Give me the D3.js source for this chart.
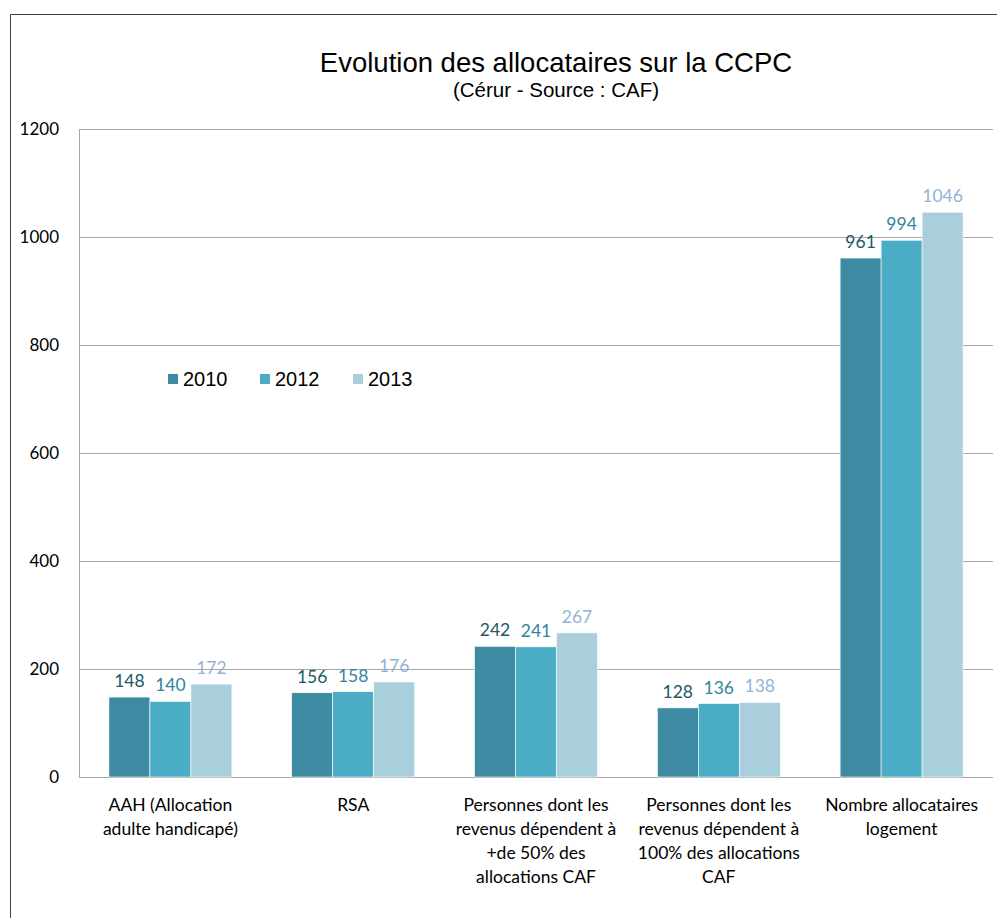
<!DOCTYPE html>
<html><head><meta charset="utf-8">
<script src="https://cdn.jsdelivr.net/npm/d3@7"></script>
<style>body{margin:0;background:#fff;}svg{display:block;}</style>
</head><body>
<script>
const categories = [
  "AAH (Allocation adulte handicapé)",
  "RSA",
  "Personnes dont les revenus dépendent à +de 50% des allocations CAF",
  "Personnes dont les revenus dépendent à 100% des allocations CAF",
  "Nombre allocataires logement"
];
const categoryLines = [
  ["AAH (Allocation", "adulte handicapé)"],
  ["RSA"],
  ["Personnes dont les", "revenus dépendent à", "+de 50% des", "allocations CAF"],
  ["Personnes dont les", "revenus dépendent à", "100% des allocations", "CAF"],
  ["Nombre allocataires", "logement"]
];
const years = ["2010", "2012", "2013"];
const values2010 = [148, 156, 242, 128, 961];
const values2012 = [140, 158, 241, 136, 994];
const values2013 = [172, 176, 267, 138, 1046];
const yTicks = [0, 200, 400, 600, 800, 1000, 1200];
const barColors = ["#3C8BA2", "#4BACC6", "#A9CFDD"];
const labelColors = ["#215868", "#31859C", "#95B3D7"];

(function () {
const series = [values2010, values2012, values2013];
const W = 997, H = 918;
const svg = d3.select("body").append("svg").attr("width", W).attr("height", H);

// outer frame
svg.append("line").attr("x1", 10.5).attr("x2", W).attr("y1", 14.5).attr("y2", 14.5).attr("stroke", "#404040");
svg.append("line").attr("x1", 10.5).attr("x2", 10.5).attr("y1", 14.5).attr("y2", H).attr("stroke", "#404040");

const pLeft = 79, pRight = 993, pTop = 129, pBottom = 777;
const y = d3.scaleLinear().domain([0, 1200]).range([pBottom, pTop]);
const x0 = d3.scaleBand().domain(categories).range([pLeft, pRight]).padding(0);
const x1 = d3.scaleBand().domain(years).range([0, x0.bandwidth()]).paddingInner(0).paddingOuter(0.73);

// gridlines
svg.append("g").selectAll("line").data(yTicks).join("line")
  .attr("x1", pLeft).attr("x2", pRight)
  .attr("y1", d => Math.round(y(d)) + 0.5).attr("y2", d => Math.round(y(d)) + 0.5)
  .attr("stroke", "#A6A6A6").attr("stroke-width", 1);
svg.append("line").attr("x1", pLeft + 0.5).attr("x2", pLeft + 0.5).attr("y1", y(1200)).attr("y2", y(0))
  .attr("stroke", "#A6A6A6");

// y tick labels
svg.append("g").selectAll("text").data(yTicks).join("text")
  .attr("x", 59).attr("y", d => y(d)).attr("dy", "0.35em")
  .attr("text-anchor", "end")
  .attr("font-family", "Lato, 'Open Sans', sans-serif").attr("font-size", 17).attr("fill", "#000")
  .text(d => d);

// bars
const groups = svg.append("g").selectAll("g").data(categories).join("g")
  .attr("transform", d => `translate(${x0(d)},0)`);
groups.each(function(cat, ci) {
  const g = d3.select(this);
  years.forEach((yr, si) => {
    const v = series[si][ci];
    g.append("rect")
      .attr("x", x1(yr)).attr("width", x1.bandwidth())
      .attr("y", y(v)).attr("height", y(0) - y(v))
      .attr("fill", barColors[si]).attr("stroke", "#fff").attr("stroke-width", 0.6);
    g.append("text")
      .attr("x", x1(yr) + x1.bandwidth() / 2).attr("y", y(v) - 10)
      .attr("text-anchor", "middle")
      .attr("font-family", "Lato, 'Open Sans', sans-serif").attr("font-size", 17.5)
      .attr("fill", labelColors[si])
      .text(v);
  });
});

// category labels
categories.forEach((cat, ci) => {
  const t = svg.append("text")
    .attr("text-anchor", "middle")
    .attr("font-family", "Lato, 'Open Sans', sans-serif").attr("font-size", 17.5).attr("fill", "#000");
  categoryLines[ci].forEach((ln, li) => {
    t.append("tspan").attr("x", x0(cat) + x0.bandwidth() / 2).attr("y", 811 + li * 24).text(ln);
  });
});

// title
svg.append("text").attr("x", 556).attr("y", 72).attr("text-anchor", "middle")
  .attr("font-family", "'Liberation Sans', Arial, sans-serif").attr("font-size", 27.5).attr("fill", "#000")
  .text("Evolution des allocataires sur la CCPC");
svg.append("text").attr("x", 556).attr("y", 97).attr("text-anchor", "middle")
  .attr("font-family", "'Liberation Sans', Arial, sans-serif").attr("font-size", 20.5).attr("fill", "#000")
  .text("(Cérur - Source : CAF)");

// legend
const legX = [168, 260, 353];
years.forEach((yr, i) => {
  svg.append("rect").attr("x", legX[i]).attr("y", 374).attr("width", 10).attr("height", 10).attr("fill", barColors[i]);
  svg.append("text").attr("x", legX[i] + 15).attr("y", 379).attr("dy", "0.36em")
    .attr("font-family", "'Liberation Sans', Arial, sans-serif").attr("font-size", 20).attr("fill", "#000")
    .text(yr);
});
})();
</script>
</body></html>
